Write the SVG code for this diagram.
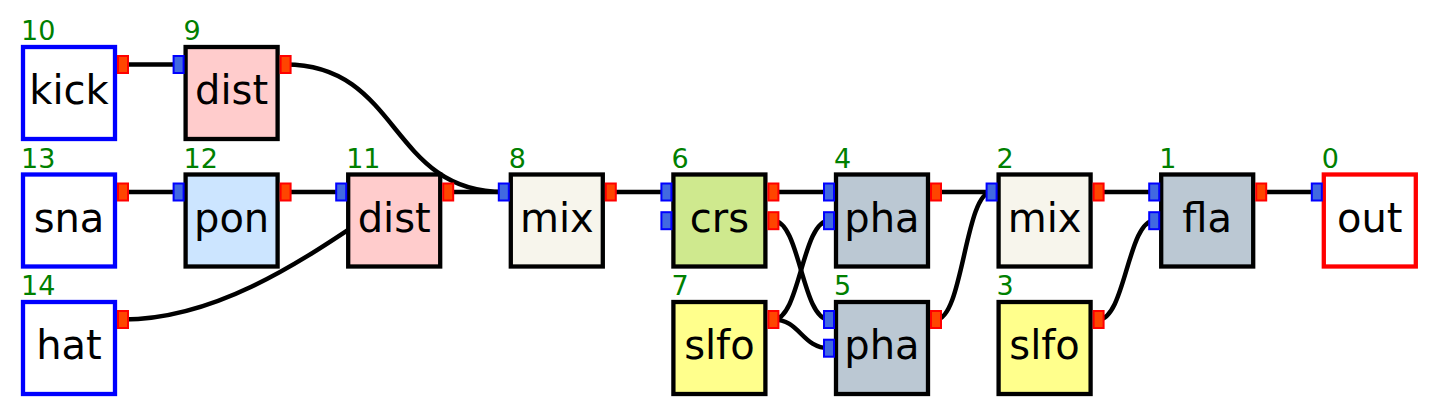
<svg xmlns="http://www.w3.org/2000/svg" width="1440" height="417" viewBox="0 0 1440 417">
<style>
.box{stroke:#000;stroke-width:4.3}
.io{stroke:#0000ff;fill:#fff;stroke-width:4.3}
.outbox{stroke:#ff0000;fill:#fff;stroke-width:4.3}
.lbl{font-family:"DejaVu Sans",sans-serif;font-size:40px;fill:#000;text-anchor:middle}
.num{font-family:"DejaVu Sans",sans-serif;font-size:27px;fill:#008000}
.pin{fill:#4169e1;stroke:#0000ff;stroke-width:2}
.pout{fill:#ff4500;stroke:#ff0000;stroke-width:2}
.wire{fill:none;stroke:#000;stroke-width:4.5}
</style>
<rect width="1440" height="417" fill="#fff"/>
<g id="connectors">
<path class="wire" d="M123,64.5 H178.6"/>
<path class="wire" d="M285.6,64.5 C400.6,64.5 388.8,192 503.8,192"/>
<path class="wire" d="M123,192 H178.6"/>
<path class="wire" d="M285.6,192 H341.2"/>
<path class="wire" d="M123,319.5 C215,319.5 300,262 360,222"/>
<path class="wire" d="M448.2,192 H503.8"/>
<path class="wire" d="M610.8,192 H666.4"/>
<path class="wire" d="M773.4,192 H829"/>
<path class="wire" d="M773.4,220.7 C800,220.7 802,319.5 829,319.5"/>
<path class="wire" d="M773.4,319.5 C800,319.5 802,220.7 829,220.7"/>
<path class="wire" d="M773.4,319.5 C800,319.5 802,348.2 829,348.2"/>
<path class="wire" d="M936,192 H991.6"/>
<path class="wire" d="M936,319.5 C963,319.5 965,192 991.6,192"/>
<path class="wire" d="M1098.6,192 H1154.2"/>
<path class="wire" d="M1098.6,319.5 C1125,319.5 1128,220.7 1154.2,220.7"/>
<path class="wire" d="M1261.2,192 H1316.8"/>
</g>
<g id="n10">
<rect class="io" x="23" y="47" width="92" height="92"/>
<rect class="pout" x="118" y="56" width="10" height="17"/>
<text class="num" x="21" y="40">10</text>
<text class="lbl" x="69" y="104">kick</text>
</g>
<g id="n9">
<rect class="box" x="185.6" y="47" width="92" height="92" fill="#ffcccc"/>
<rect class="pin" x="173.6" y="56" width="10" height="17"/>
<rect class="pout" x="280.6" y="56" width="10" height="17"/>
<text class="num" x="183.6" y="40">9</text>
<text class="lbl" x="231.6" y="104">dist</text>
</g>
<g id="n13">
<rect class="io" x="23" y="174.5" width="92" height="92"/>
<rect class="pout" x="118" y="183.5" width="10" height="17"/>
<text class="num" x="21" y="167.5">13</text>
<text class="lbl" x="69" y="231.5">sna</text>
</g>
<g id="n12">
<rect class="box" x="185.6" y="174.5" width="92" height="92" fill="#cce5ff"/>
<rect class="pin" x="173.6" y="183.5" width="10" height="17"/>
<rect class="pout" x="280.6" y="183.5" width="10" height="17"/>
<text class="num" x="183.6" y="167.5">12</text>
<text class="lbl" x="231.6" y="231.5">pon</text>
</g>
<g id="n11">
<rect class="box" x="348.2" y="174.5" width="92" height="92" fill="#ffcccc"/>
<rect class="pin" x="336.2" y="183.5" width="10" height="17"/>
<rect class="pout" x="443.2" y="183.5" width="10" height="17"/>
<text class="num" x="346.2" y="167.5">11</text>
<text class="lbl" x="394.2" y="231.5">dist</text>
</g>
<g id="n14">
<rect class="io" x="23" y="302" width="92" height="92"/>
<rect class="pout" x="118" y="311" width="10" height="17"/>
<text class="num" x="21" y="295">14</text>
<text class="lbl" x="69" y="359">hat</text>
</g>
<g id="n8">
<rect class="box" x="510.8" y="174.5" width="92" height="92" fill="#f7f5ec"/>
<rect class="pin" x="498.8" y="183.5" width="10" height="17"/>
<rect class="pout" x="605.8" y="183.5" width="10" height="17"/>
<text class="num" x="508.8" y="167.5">8</text>
<text class="lbl" x="556.8" y="231.5">mix</text>
</g>
<g id="n6">
<rect class="box" x="673.4" y="174.5" width="92" height="92" fill="#cfe98e"/>
<rect class="pin" x="661.4" y="183.5" width="10" height="17"/>
<rect class="pin" x="661.4" y="212.2" width="10" height="17"/>
<rect class="pout" x="768.4" y="183.5" width="10" height="17"/>
<rect class="pout" x="768.4" y="212.2" width="10" height="17"/>
<text class="num" x="671.4" y="167.5">6</text>
<text class="lbl" x="719.4" y="231.5">crs</text>
</g>
<g id="n7">
<rect class="box" x="673.4" y="302" width="92" height="92" fill="#ffff8c"/>
<rect class="pout" x="768.4" y="311" width="10" height="17"/>
<text class="num" x="671.4" y="295">7</text>
<text class="lbl" x="719.4" y="359">slfo</text>
</g>
<g id="n4">
<rect class="box" x="836" y="174.5" width="92" height="92" fill="#bbc8d3"/>
<rect class="pin" x="824" y="183.5" width="10" height="17"/>
<rect class="pin" x="824" y="212.2" width="10" height="17"/>
<rect class="pout" x="931" y="183.5" width="10" height="17"/>
<text class="num" x="834" y="167.5">4</text>
<text class="lbl" x="882" y="231.5">pha</text>
</g>
<g id="n5">
<rect class="box" x="836" y="302" width="92" height="92" fill="#bbc8d3"/>
<rect class="pin" x="824" y="311" width="10" height="17"/>
<rect class="pin" x="824" y="339.7" width="10" height="17"/>
<rect class="pout" x="931" y="311" width="10" height="17"/>
<text class="num" x="834" y="295">5</text>
<text class="lbl" x="882" y="359">pha</text>
</g>
<g id="n2">
<rect class="box" x="998.6" y="174.5" width="92" height="92" fill="#f7f5ec"/>
<rect class="pin" x="986.6" y="183.5" width="10" height="17"/>
<rect class="pout" x="1093.6" y="183.5" width="10" height="17"/>
<text class="num" x="996.6" y="167.5">2</text>
<text class="lbl" x="1044.6" y="231.5">mix</text>
</g>
<g id="n3">
<rect class="box" x="998.6" y="302" width="92" height="92" fill="#ffff8c"/>
<rect class="pout" x="1093.6" y="311" width="10" height="17"/>
<text class="num" x="996.6" y="295">3</text>
<text class="lbl" x="1044.6" y="359">slfo</text>
</g>
<g id="n1">
<rect class="box" x="1161.2" y="174.5" width="92" height="92" fill="#bbc8d3"/>
<rect class="pin" x="1149.2" y="183.5" width="10" height="17"/>
<rect class="pin" x="1149.2" y="212.2" width="10" height="17"/>
<rect class="pout" x="1256.2" y="183.5" width="10" height="17"/>
<text class="num" x="1159.2" y="167.5">1</text>
<text class="lbl" x="1207.2" y="231.5">fla</text>
</g>
<g id="n0">
<rect class="outbox" x="1323.8" y="174.5" width="92" height="92"/>
<rect class="pin" x="1311.8" y="183.5" width="10" height="17"/>
<text class="num" x="1321.8" y="167.5">0</text>
<text class="lbl" x="1369.8" y="231.5">out</text>
</g>
</svg>
